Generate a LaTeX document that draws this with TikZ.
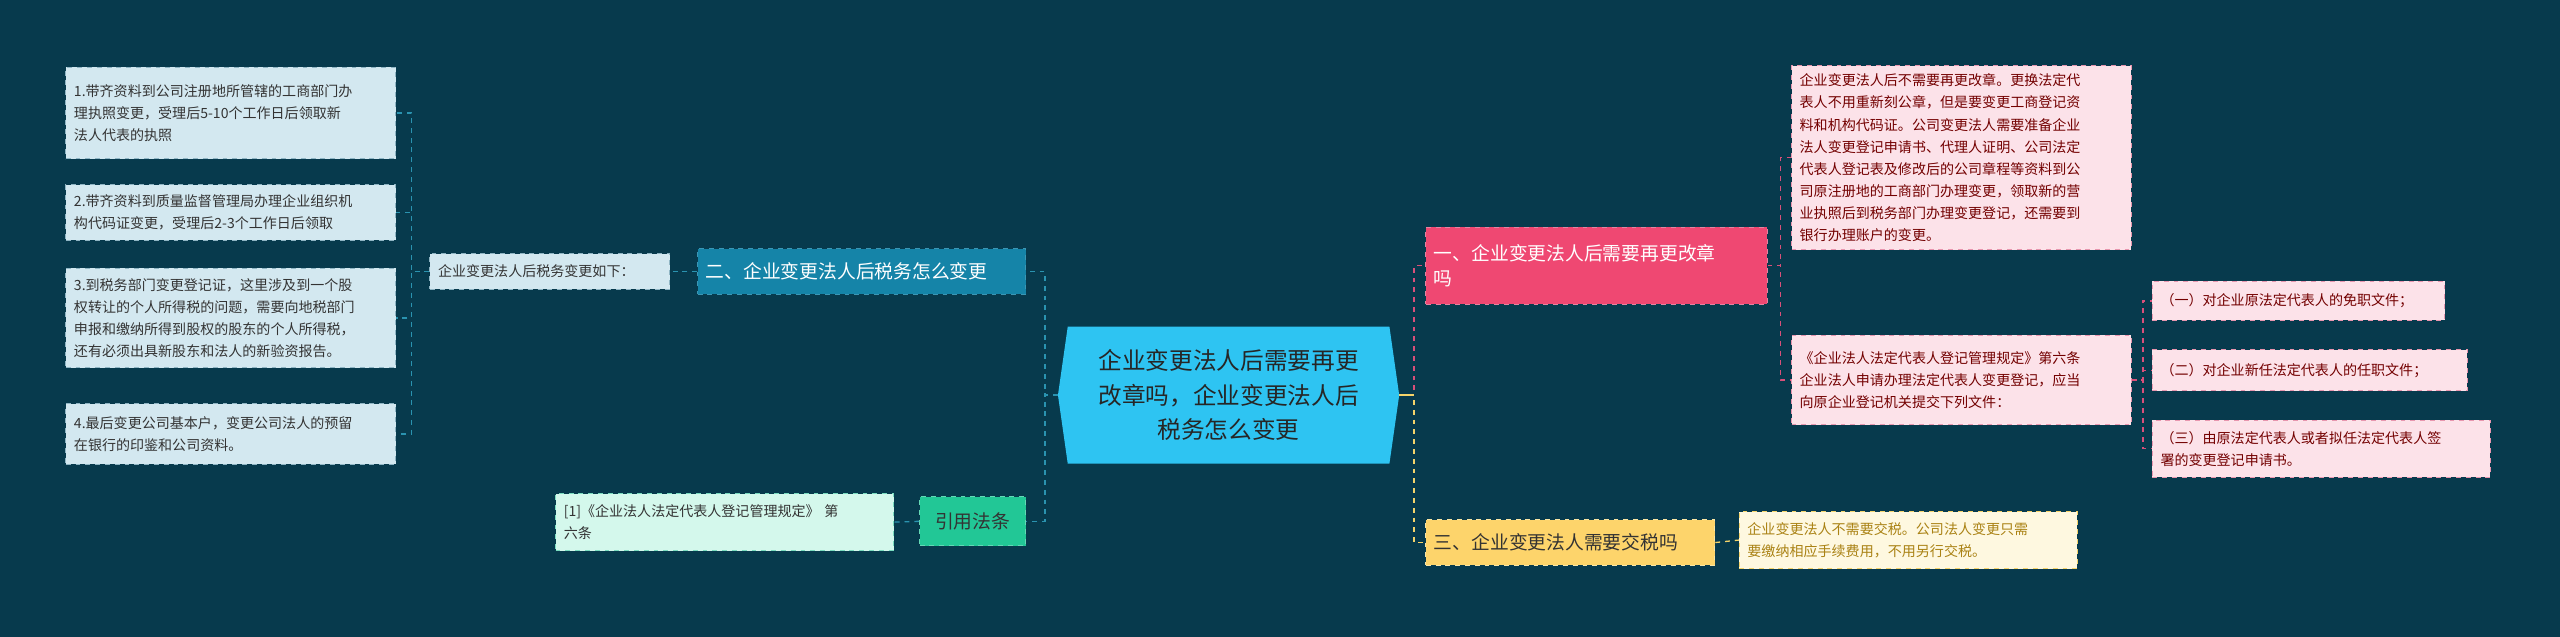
\documentclass[tikz,border=0pt]{standalone}
\usepackage{fontspec}
\setmainfont{Noto Sans CJK SC}
\setlength{\parindent}{0pt}
\definecolor{bg}{HTML}{073A4D}
\definecolor{teal}{HTML}{2A93B0}
\definecolor{pinkl}{HTML}{D9507A}
\definecolor{yel}{HTML}{F5D46A}
\definecolor{grn}{HTML}{22C796}
\begin{document}
\begin{tikzpicture}[x=1pt,y=-1pt,
  box/.style={draw, dashed, line width=0.6pt, inner sep=5pt, align=left, anchor=north west},
  leaf/.style={box, fill=leafc, draw=leafd, text=black!80, font=\fontsize{8.6}{13.5}\selectfont},
  pk/.style={box, fill={rgb,255:red,252;green,226;blue,233}, draw=pinkl!60, text=red!45!black, font=\fontsize{8.6}{13.5}\selectfont},
  tc/.style={teal, dashed, line width=0.8pt},
  pc/.style={pinkl, dashed, line width=0.8pt},
  yc/.style={yel, dashed, line width=0.8pt}]
\definecolor{leafc}{HTML}{D3E8F0}
\definecolor{leafd}{HTML}{8FB5C4}
\fill[bg] (0,0) rectangle (1568,390);
\useasboundingbox (0,0) rectangle (1568,390);
% center
\fill[fill={rgb,255:red,46;green,196;blue,242}] (654,200) -- (851,200) -- (857,242) -- (851,284) -- (654,284) -- (648,242) -- cycle;
\node[align=center, font=\fontsize{14.5}{21}\selectfont, text=black!85] (c) at (752.5,242) {企业变更法人后需要再更\\改章吗，企业变更法人后\\税务怎么变更};
\coordinate (cl) at (648,242); \coordinate (cr) at (857,242);
% left branch
\node[box, fill={rgb,255:red,21;green,132;blue,168}, draw={rgb,255:red,60;green,150;blue,180}, text=white, minimum width=201pt, minimum height=28pt, text width=191pt, font=\fontsize{11.5}{14}\selectfont] (b2) at (427,152) {二、企业变更法人后税务怎么变更};
\node[leaf, minimum width=147pt, minimum height=22pt, text width=137pt] (s2) at (263,155) {企业变更法人后税务变更如下：};
\node[leaf, minimum width=202pt, minimum height=56pt, text width=192pt] (l1) at (40,41) {1.带齐资料到公司注册地所管辖的工商部门办\\理执照变更，受理后5-10个工作日后领取新\\法人代表的执照};
\node[leaf, minimum width=202pt, minimum height=34pt, text width=192pt] (l2) at (40,113) {2.带齐资料到质量监督管理局办理企业组织机\\构代码证变更，受理后2-3个工作日后领取};
\node[leaf, minimum width=202pt, minimum height=61pt, text width=192pt] (l3) at (40,164) {3.到税务部门变更登记证，这里涉及到一个股\\权转让的个人所得税的问题，需要向地税部门\\申报和缴纳所得到股权的股东的个人所得税，\\还有必须出具新股东和法人的新验资报告。};
\node[leaf, minimum width=202pt, minimum height=37pt, text width=192pt] (l4) at (40,247) {4.最后变更公司基本户，变更公司法人的预留\\在银行的印鉴和公司资料。};
\node[box, fill=grn, draw=grn!70!white, text=black!80, minimum width=65pt, minimum height=30pt, text width=55pt, font=\fontsize{11.5}{14}\selectfont, align=center] (yy) at (563,304) {引用法条};
\node[leaf, fill={rgb,255:red,212;green,248;blue,236}, draw=grn!60, minimum width=207pt, minimum height=35pt, text width=197pt] (ref) at (340,302) {[1]《企业法人法定代表人登记管理规定》 第\\六条};
% right branch
\node[box, fill={rgb,255:red,239;green,72;blue,114}, draw=pinkl!70!white, text=white, minimum width=209pt, minimum height=47pt, text width=199pt, font=\fontsize{11.5}{15}\selectfont] (b1) at (873,139) {一、企业变更法人后需要再更改章\\吗};
\node[pk, minimum width=208pt, minimum height=112pt, text width=198pt] (p1) at (1097,40) {企业变更法人后不需要再更改章。更换法定代\\表人不用重新刻公章，但是要变更工商登记资\\料和机构代码证。公司变更法人需要准备企业\\法人变更登记申请书、代理人证明、公司法定\\代表人登记表及修改后的公司章程等资料到公\\司原注册地的工商部门办理变更，领取新的营\\业执照后到税务部门办理变更登记，还需要到\\银行办理账户的变更。};
\node[pk, minimum width=208pt, minimum height=55pt, text width=198pt] (p2) at (1097,205) {《企业法人法定代表人登记管理规定》第六条\\企业法人申请办理法定代表人变更登记，应当\\向原企业登记机关提交下列文件：};
\node[pk, minimum width=179pt, minimum height=24pt, text width=169pt] (q1) at (1318,172) {（一）对企业原法定代表人的免职文件；};
\node[pk, minimum width=193pt, minimum height=25pt, text width=183pt] (q2) at (1318,214) {（二）对企业新任法定代表人的任职文件；};
\node[pk, minimum width=207pt, minimum height=35pt, text width=197pt] (q3) at (1318,257) {（三）由原法定代表人或者拟任法定代表人签\\署的变更登记申请书。};
\node[box, fill={rgb,255:red,253;green,212;blue,107}, draw=yel!60!white, text=black!80, minimum width=177pt, minimum height=28pt, text width=167pt, font=\fontsize{11.5}{14}\selectfont] (b3) at (873,318) {三、企业变更法人需要交税吗};
\node[box, fill={rgb,255:red,254;green,248;blue,224}, draw=yel, text={rgb,255:red,170;green,130;blue,20}, minimum width=207pt, minimum height=35pt, text width=197pt, font=\fontsize{8.6}{13.5}\selectfont] (y1) at (1065,313) {企业变更法人不需要交税。公司法人变更只需\\要缴纳相应手续费用，不用另行交税。};
% connectors left
\draw[tc] (cl) -- ++(-8,0) |- (b2.east);
\draw[tc] (cl) -- ++(-8,0) |- (yy.east);
\draw[tc] (b2.west) -- (s2.east);
\draw[tc] (yy.west) -- (ref.east);
\foreach \n in {l1,l2,l3,l4} \draw[tc] (s2.west) -- ++(-11,0) |- (\n.east);
% connectors right
\draw[pc] (cr) -- ++(9,0) |- (b1.west);
\draw[yc] (cr) -- ++(9,0) |- (b3.west);
\draw[yel, line width=1.2pt] (cr) -- ++(9,0);
\draw[pc] (b1.east) -- ++(8,0) |- (p1.west);
\draw[pc] (b1.east) -- ++(8,0) |- (p2.west);
\foreach \n in {q1,q2,q3} \draw[pc] (p2.east) -- ++(7,0) |- (\n.west);
\draw[yc] (b3.east) -- (y1.west);
\end{tikzpicture}
\end{document}
